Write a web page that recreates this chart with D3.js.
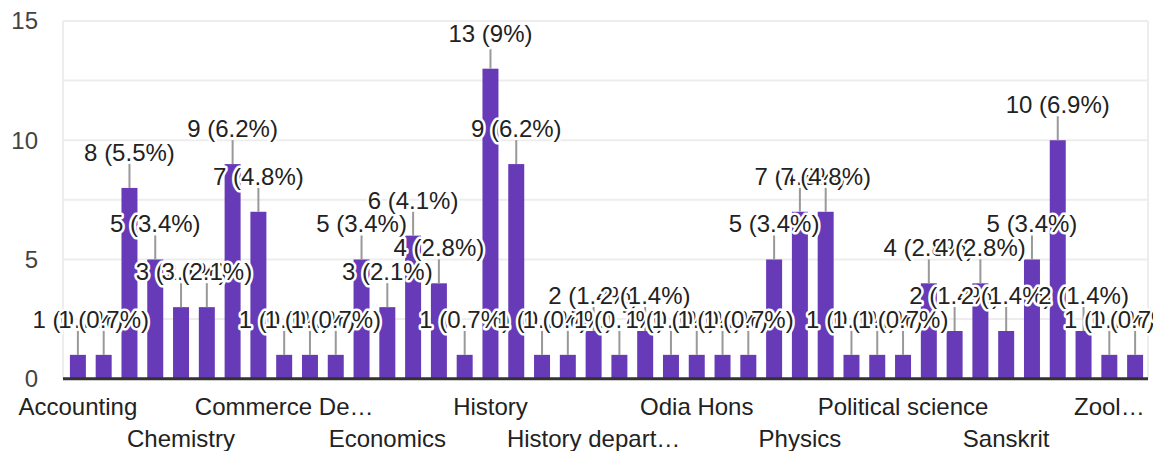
<!DOCTYPE html>
<html>

<head>
    <title>Department responses</title>
    <script src="https://d3js.org/d3.v7.min.js"></script>
    <style>
        body {
            margin: 0;
            background: white;
        }

        text {
            font-family: "Liberation Sans", Arial, sans-serif;
            font-size: 24px;
            fill: #222;
        }
    </style>
</head>

<body>
    <div id="chart"></div>

    <script>
        // one bar per answer; only every 4th answer gets an axis label
        var values = [1, 1, 8, 5, 3, 3, 9, 7, 1, 1, 1, 5, 3, 6, 4, 1, 13, 9, 1, 1, 2,
            1, 2, 1, 1, 1, 1, 5, 7, 7, 1, 1, 1, 4, 2, 4, 2, 5, 10, 2, 1, 1];
        var axisLabels = ["Accounting", "Chemistry", "Commerce De…", "Economics", "History",
            "History depart…", "Odia Hons", "Physics", "Political science", "Sanskrit", "Zool…"];
        var yTicks = [0, 5, 10, 15];
        var gridValues = [0, 2.5, 5, 7.5, 10, 12.5, 15];
        var respondents = 145;

        var width = 1153, height = 451;
        var plotLeft = 63, plotRight = 1148, plotTop = 21, plotBottom = 378.7;

        var svg = d3.select("#chart")
            .append("svg")
            .attr("width", width)
            .attr("height", height);

        var x = d3.scaleBand()
            .domain(d3.range(values.length))
            .range([65, plotRight])
            .paddingInner(0.38)
            .paddingOuter(0.19);

        var y = d3.scaleLinear()
            .domain([0, 15])
            .range([plotBottom, plotTop]);

        // gridlines + frame
        svg.selectAll(".grid")
            .data(gridValues)
            .enter()
            .append("line")
            .attr("x1", plotLeft).attr("x2", plotRight)
            .attr("y1", d => y(d)).attr("y2", d => y(d))
            .attr("stroke", "#ededed")
            .attr("stroke-width", 2);
        svg.selectAll(".vframe")
            .data([plotLeft, plotRight])
            .enter()
            .append("line")
            .attr("x1", d => d).attr("x2", d => d)
            .attr("y1", plotTop).attr("y2", plotBottom)
            .attr("stroke", "#ededed")
            .attr("stroke-width", 2);

        // y tick labels
        svg.selectAll(".ytick")
            .data(yTicks)
            .enter()
            .append("text")
            .attr("x", 38)
            .attr("y", d => y(d))
            .attr("dy", "0.35em")
            .attr("text-anchor", "end")
            .style("fill", "#444")
            .text(d => d);

        // bars
        svg.selectAll(".bar")
            .data(values)
            .enter()
            .append("rect")
            .attr("x", (d, i) => x(i))
            .attr("y", d => y(d))
            .attr("width", x.bandwidth())
            .attr("height", d => y(0) - y(d))
            .attr("fill", "#673ab7");

        // annotation stems
        svg.selectAll(".stem")
            .data(values)
            .enter()
            .append("line")
            .attr("x1", (d, i) => x(i) + x.bandwidth() / 2)
            .attr("x2", (d, i) => x(i) + x.bandwidth() / 2)
            .attr("y1", d => y(d) - 24)
            .attr("y2", d => y(d))
            .attr("stroke", "#999")
            .attr("stroke-width", 2);

        function pct(v) {
            var p = Math.round(v / respondents * 1000) / 10;
            return v + " (" + p + "%)";
        }

        // annotations, drawn in order so later halos cover earlier text
        svg.selectAll(".note")
            .data(values)
            .enter()
            .append("text")
            .attr("x", (d, i) => x(i) + x.bandwidth() / 2)
            .attr("y", d => y(d) - 27)
            .attr("text-anchor", "middle")
            .style("stroke", "white")
            .style("stroke-width", 5)
            .style("stroke-linejoin", "round")
            .style("paint-order", "stroke")
            .text(d => pct(d));

        // baseline
        svg.append("line")
            .attr("x1", plotLeft).attr("x2", plotRight)
            .attr("y1", y(0)).attr("y2", y(0))
            .attr("stroke", "#333")
            .attr("stroke-width", 3);

        // x labels, staggered over two rows
        svg.selectAll(".xlabel")
            .data(axisLabels)
            .enter()
            .append("text")
            .attr("x", (d, i) => x(i * 4) + x.bandwidth() / 2)
            .attr("y", (d, i) => i % 2 == 0 ? 415 : 447)
            .attr("text-anchor", "middle")
            .text(d => d);
    </script>
</body>

</html>
